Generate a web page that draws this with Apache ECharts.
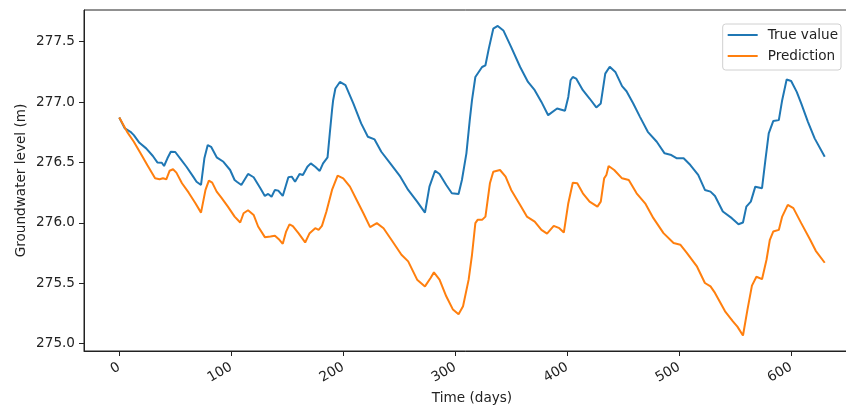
<!DOCTYPE html>
<html>
<head>
<meta charset="utf-8">
<script src="https://cdn.jsdelivr.net/npm/echarts@6/dist/echarts.min.js"></script>
<style>
  html, body { margin: 0; padding: 0; background: #fff; }
  #chart { width: 846px; height: 406px; }
</style>
</head>
<body>
<div id="chart"></div>
<script>
// Observed groundwater level (m) by day
const trueDays = [0,5,10,13,18,24,30,34,38,40,43,46,50,55,60,66,69,73,76,79,82,87,93,99,103,105,109,115,120,126,130,133,136,139,142,146,151,154,157,161,164,168,171,175,179,182,186,188,190,191,193,197,202,209,216,222,228,234,242,251,258,266,273,277,282,286,292,297,303,306,310,313,315,318,324,327,330,334,338,343,350,358,365,371,377,383,391,398,401,403,405,408,414,420,426,430,434,438,443,449,453,459,465,472,480,487,493,498,504,510,517,523,528,532,539,547,553,557,560,564,568,574,577,580,584,589,592,596,600,605,609,615,621,630];
const trueLevels = [276.872,276.781,276.753,276.726,276.662,276.616,276.553,276.500,276.497,276.470,276.534,276.588,276.586,276.525,276.464,276.382,276.340,276.313,276.534,276.643,276.629,276.542,276.505,276.437,276.354,276.340,276.313,276.404,276.377,276.286,276.222,276.239,276.216,276.272,276.266,276.222,276.377,276.382,276.340,276.404,276.396,276.464,276.492,276.464,276.429,276.492,276.542,276.740,276.932,277.015,277.112,277.166,277.139,276.988,276.823,276.712,276.690,276.588,276.492,276.382,276.272,276.175,276.084,276.299,276.431,276.404,276.313,276.244,276.239,276.354,276.575,276.850,277.015,277.207,277.290,277.304,277.442,277.607,277.630,277.593,277.455,277.290,277.166,277.098,277.001,276.891,276.946,276.927,277.042,277.180,277.207,277.194,277.098,277.029,276.955,276.988,277.235,277.292,277.249,277.131,277.089,276.988,276.877,276.753,276.671,276.575,276.561,276.534,276.534,276.478,276.396,276.272,276.258,276.222,276.093,276.038,275.988,276.002,276.134,276.175,276.299,276.286,276.519,276.740,276.842,276.850,277.015,277.186,277.174,277.084,276.988,276.836,276.699,276.547];

// Model prediction (m) by day
const predDays = [0,7,13,19,25,32,36,39,42,45,48,51,56,62,68,73,77,80,83,87,91,97,103,108,111,115,120,124,130,135,139,143,146,149,152,155,160,166,170,175,178,181,185,190,195,200,206,212,218,224,230,236,243,252,258,266,273,278,281,286,292,298,303,307,312,315,318,320,324,327,331,334,340,345,350,358,364,371,377,382,388,393,397,401,405,409,414,420,427,430,433,435,437,442,449,455,462,470,477,486,495,501,507,516,523,528,532,541,548,552,557,561,565,569,574,578,581,584,589,592,597,602,609,617,622,630];
const predLevels = [276.872,276.753,276.671,276.575,276.478,276.368,276.360,276.368,276.360,276.431,276.443,276.415,276.327,276.249,276.162,276.084,276.272,276.349,276.332,276.258,276.210,276.134,276.051,276.002,276.079,276.104,276.065,275.969,275.881,275.886,275.892,275.859,275.826,275.927,275.987,275.972,275.914,275.837,275.914,275.955,275.941,275.974,276.093,276.272,276.390,276.368,276.299,276.189,276.079,275.964,275.997,275.955,275.859,275.735,275.680,275.529,275.473,275.543,275.589,275.529,275.391,275.281,275.242,275.308,275.529,275.735,275.997,276.024,276.024,276.051,276.327,276.423,276.437,276.382,276.272,276.148,276.051,276.010,275.941,275.910,275.974,275.955,275.919,276.162,276.332,276.327,276.244,276.175,276.134,276.175,276.368,276.396,276.470,276.437,276.368,276.354,276.244,276.156,276.038,275.914,275.832,275.818,275.749,275.636,275.501,275.473,275.419,275.267,275.184,275.140,275.066,275.281,275.479,275.553,275.533,275.694,275.859,275.927,275.941,276.051,276.148,276.121,275.997,275.859,275.768,275.669];

const xTicks = [0, 100, 200, 300, 400, 500, 600];
const yTicks = [275.0, 275.5, 276.0, 276.5, 277.0, 277.5];

const FONT = 'DejaVu Sans';
const FS = 13.6;
const INK = '#222';

const pairs = (xs, ys) => xs.map((d, i) => [d, ys[i]]);

const chart = echarts.init(document.getElementById('chart'), null, { renderer: 'canvas' });

chart.setOption({
  animation: false,
  backgroundColor: '#fff',
  textStyle: { fontFamily: FONT },
  grid: {
    left: 84, top: 10, width: 776, height: 341,
    show: true, borderColor: INK, borderWidth: 1, backgroundColor: 'transparent',
    containLabel: false, outerBoundsMode: 'none'
  },
  legend: {
    right: 5, top: 24,
    orient: 'vertical', align: 'left',
    icon: 'rect', itemWidth: 30, itemHeight: 2, itemGap: 5,
    padding: [3, 3, 6, 5],
    backgroundColor: 'rgba(255,255,255,0.8)',
    borderColor: '#d0d0d0', borderWidth: 1, borderRadius: 3,
    textStyle: { fontFamily: FONT, fontSize: FS, color: INK, lineHeight: 16, padding: [0, 0, 0, 5] },
    itemStyle: { borderWidth: 0 },
    data: ['True value', 'Prediction']
  },
  xAxis: {
    type: 'value', min: -31.5, max: 661.5,
    name: 'Time (days)', nameLocation: 'middle', nameGap: 40, nameMoveOverlap: false,
    nameTextStyle: { fontFamily: FONT, fontSize: FS, color: INK },
    axisLine: { show: true, onZero: false, lineStyle: { color: INK, width: 1 } },
    axisTick: { show: true, inside: false, length: 5, lineStyle: { color: INK }, customValues: xTicks },
    axisLabel: {
      show: true, rotate: 30, margin: 15, customValues: xTicks,
      fontFamily: FONT, fontSize: FS, color: INK,
      formatter: v => String(v)
    },
    splitLine: { show: false }
  },
  yAxis: {
    type: 'value', min: 274.938, max: 277.762,
    name: 'Groundwater level (m)', nameLocation: 'middle', nameGap: 56, nameRotate: 90, nameMoveOverlap: false,
    nameTextStyle: { fontFamily: FONT, fontSize: FS, color: INK },
    axisLine: { show: true, onZero: false, lineStyle: { color: INK, width: 1 } },
    axisTick: { show: true, inside: false, length: 5, lineStyle: { color: INK }, customValues: yTicks },
    axisLabel: {
      show: true, margin: 9, customValues: yTicks,
      fontFamily: FONT, fontSize: FS, color: INK,
      formatter: v => Number(v).toFixed(1)
    },
    splitLine: { show: false }
  },
  series: [
    {
      name: 'True value', type: 'line', showSymbol: false, symbol: 'none',
      data: pairs(trueDays, trueLevels),
      lineStyle: { color: '#1f77b4', width: 2 },
      itemStyle: { color: '#1f77b4' }
    },
    {
      name: 'Prediction', type: 'line', showSymbol: false, symbol: 'none',
      data: pairs(predDays, predLevels),
      lineStyle: { color: '#ff7f0e', width: 2 },
      itemStyle: { color: '#ff7f0e' }
    }
  ]
});
</script>
</body>
</html>
